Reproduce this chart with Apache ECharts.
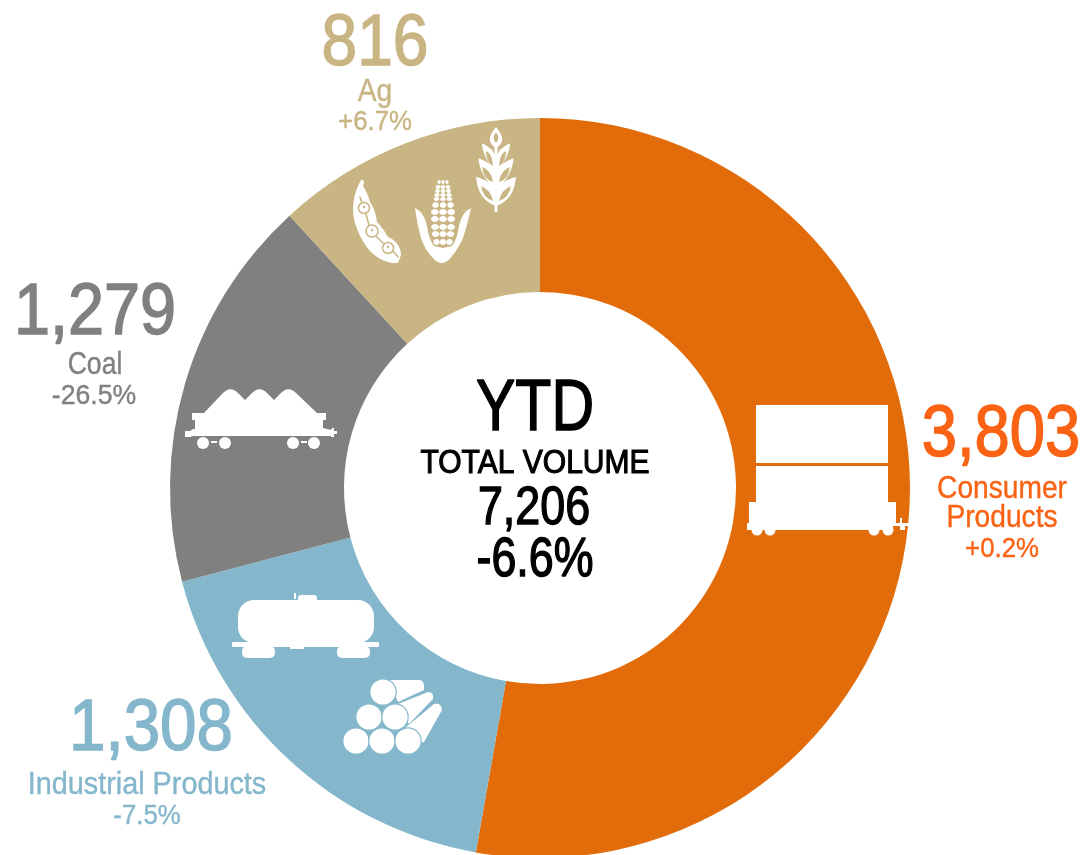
<!DOCTYPE html>
<html><head><meta charset="utf-8">
<style>html,body{margin:0;padding:0;background:#fff}#c{width:1086px;height:855px}</style>
<script src="https://cdn.jsdelivr.net/npm/echarts@6/dist/echarts.min.js"></script>
</head><body><div id="c"></div>
<script>
const categories = ['Consumer Products','Industrial Products','Coal','Ag'];
// Values as printed on the chart.
const volumes = [3803,1308,1279,816];
// Slice sizes as read from the drawn arcs: the reference draws Coal a little
// smaller and Ag a little larger than their printed values would give.
const arcValues = [3803,1308,1242,853];
const changes = ['+0.2%','-7.5%','-26.5%','+6.7%'];
const sliceColors = ['#E36C0A','#84B7CB','#808080','#C9B583'];
const labelColors = ['#FA6214','#84B7CB','#808080','#C9B583'];
const totalVolume = 7206;
const totalChange = '-6.6%';
const fmt = n => n.toLocaleString('en-US');
const FF = '"Liberation Sans",Arial,sans-serif';
const W = '#ffffff';
function T(text,x,y,size,fill,sx,weight,sw){
  return {type:'text',silent:true,x:x,y:y,scaleX:sx||1,z:20,style:{text:text,x:0,y:0,fill:fill,stroke:sw?fill:null,lineWidth:sw||0,align:'center',verticalAlign:'middle',textAlign:'center',textVerticalAlign:'middle',font:(weight||'normal')+' '+size+'px '+FF}};
}
let pathId=0;
function P(d,fill,extra){
  const name='iconPath'+(pathId++);
  echarts.graphic.registerShape(name,echarts.graphic.extendPath(d,{}));
  return Object.assign({type:name,silent:true,z:10,style:{fill:fill}},extra||{});
}
function C(x,y,r,fill,stroke,lw){return {type:'circle',silent:true,z:11,shape:{cx:x,cy:y,r:r},style:{fill:fill,stroke:stroke||null,lineWidth:lw||0}};}
function R(x,y,w,h,fill,r){return {type:'rect',silent:true,z:10,shape:{x:x,y:y,width:w,height:h,r:r||0},style:{fill:fill}};}
function E(x,y,a,b,fill){return {type:'ellipse',silent:true,z:11,shape:{cx:x,cy:y,rx:a,ry:b},style:{fill:fill}};}
function L(x1,y1,x2,y2,col,lw){return {type:'line',silent:true,z:12,shape:{x1,y1,x2,y2},style:{stroke:col,lineWidth:lw,lineCap:'round'}};}

const icons=[];
// consumer: stacked containers on flat car
icons.push(R(756,405,132,58,W),R(756,466,132,37,W),R(749,502,147,22,W),R(747,523,146,7,W),
 R(893,523,19,3,W),R(900,518,2,8,W),R(900,526,5,4,W),
 C(757,530,5.5,W),C(770,530,5.5,W),C(874,530,5.5,W),C(888,530,5.5,W));
// coal hopper
icons.push(P('M192 413L204 413L222 394Q230 385 238 393L245 400L251 394Q259 385 267 393L274 400L280 394Q288 385 296 393L317 413L326 413L326 420L323 420L323 428L331 430L332 428L334 428L334 431L337 431L337 434L334 434L334 437L331 437L331 436L193 436L190 437L185 437L185 431L190 431L193 429L195 429L195 420L192 420Z',W),
 C(203,443,6,W),C(225,443,6,W),C(293,443,6,W),C(314,443,6,W),R(211,441,6,2,W),R(301,441,6,2,W));
// tank car
icons.push(R(238,600,136,43,W,16),R(298,595,19,8,W,3),R(294,593,2,6,W),R(232,642,147,5,W,1),
 R(242,646,33,12,W,5),R(337,646,33,12,W,5),R(290,645,14,4,W));
// logs
icons.push(P('M388 680L420 680Q424 681 424 686L424 690L398 702Z',W),
 P('M398 704L428 692Q434 692 433 699L409 724Z',W),
 P('M405 728L434 704Q441 702 442 710L424 742L410 745Z',W));
[[356,741],[382,741],[408,741],[369,717],[395,717],[383,692]].forEach(p=>icons.push(C(p[0],p[1],13.2,W,sliceColors[1],1.2)));
// wheat
const tan=sliceColors[3];
icons.push(P('M496 127C500 132 503 137 502 141C501 145 498 146 496 149C494 146 491 145 490 141C489 137 492 132 496 127Z',W),
 P('M496 132C498 135 499 138 498 140L496 143L494 140C493 138 494 135 496 132Z',tan),
 R(494.5,146,3,66,W));
const leaves=[
 {tip:[14.3,143.3],c1:[4,147],j1:[0,157],c2:[13,158],j2:[0,172],hole:[[10,151],[4,153],[3,166],[10,162]]},
 {tip:[17.7,158.3],c1:[6,162],j1:[0,170],c2:[16,176],j2:[0,190],hole:[[14,167],[5,170],[3,182],[12,180]]},
 {tip:[20,176.7],c1:[8,180],j1:[0,188],c2:[18,200],j2:[0,206],hole:[[15,186],[5,190],[3,201],[13,198]]}
];
leaves.forEach(l=>{
 [-1,1].forEach(s=>{
  const X=v=>496+s*v;
  icons.push(P(`M${X(l.tip[0])} ${l.tip[1]}Q${X(l.c1[0])} ${l.c1[1]} ${X(l.j1[0])} ${l.j1[1]}L${X(l.j2[0])} ${l.j2[1]}Q${X(l.c2[0])} ${l.c2[1]} ${X(l.tip[0])} ${l.tip[1]}Z`,W));
  const h=l.hole;
  icons.push(P(`M${X(h[0][0])} ${h[0][1]}Q${X(h[1][0])} ${h[1][1]} ${X(h[2][0])} ${h[2][1]}Q${X(h[3][0])} ${h[3][1]} ${X(h[0][0])} ${h[0][1]}Z`,tan,{z:12}));
 });
});
// corn
icons.push(P('M415 208Q424 212 427 226Q429 240 434 246L443 248L452 246Q457 240 459 226Q462 212 471 208Q467 226 463 238Q458 249 452 256Q447 263 442 263Q437 263 432 257Q425 250 421 238Q417 224 415 208Z',W));
[[182,4,1.6],[187,5,2.4],[191,5.5,2.4],[195,6,2.6],[199,6.5,2.8],[205,7.5,3.2],[212,8.2,3.8],[219,8.2,3.8],[227,8,3.8],[234,7.5,3.6],[242,6.5,3.2]].forEach(r=>{
 const [y,step,a]=r;
 [-1,0,1].forEach(c=>icons.push(E(443+c*step,y,a,y<200?2:3,W)));
});
// pea pod
icons.push(P('M361 180C365 179 364 184 363 186C367 192 369 198 370 202C374 208 376 214 377 222C381 226 384 230 388 237C396 240 401 247 401 255L398 263C380 264 364 250 356 226C350 210 354 192 361 180Z',W));
icons.push(L(360,197,362,203,tan,1.5),L(366,214,369,225,tan,1.5),L(376,236,383,243,tan,1.5),L(393,251,398,257,tan,1.5));
[[364,208,5.5],[372,231,6],[388,248,5.5]].forEach(p=>{icons.push(C(p[0],p[1],p[2],W,tan,1.5));icons.push(C(p[0],p[1]-1,1.2,tan));});

const N=72,NS=.89,LS=32,LX=.88,CS=28,CX=.92,NW=1.5,TW=.4;
const texts=[
 T(fmt(volumes[0]),1001,436,N,labelColors[0],.88,null,NW),
 T('Consumer',1002,489,LS,labelColors[0],LX,null,TW),
 T('Products',1002,518,LS,labelColors[0],LX,null,TW),
 T(changes[0],1002,549,CS,labelColors[0],CX,null,TW),
 T(fmt(volumes[1]),151,730,N,labelColors[1],.91,null,NW),
 T(categories[1],147,785,LS,labelColors[1],.9,null,TW),
 T(changes[1],147,816,CS,labelColors[1],CX,null,TW),
 T(fmt(volumes[2]),95,314,N,labelColors[2],.9,null,NW),
 T(categories[2],95,365,LS,labelColors[2],.83,null,TW),
 T(changes[2],94,396,CS,labelColors[2],.95,null,TW),
 T(fmt(volumes[3]),375,45,N,labelColors[3],NS,null,NW),
 T(categories[3],375,92,LS,labelColors[3],LX,null,TW),
 T(changes[3],375,122,CS,labelColors[3],CX,null,TW),
 T('YTD',535,410,72,'#000',.82,null,1.5),
 T('TOTAL VOLUME',535,464,33,'#000',.91,null,1.1),
 T(fmt(totalVolume),534,509,54,'#000',.83,null,1.4),
 T(totalChange,535,561,56,'#000',.8,null,1.4)
];
const chart=echarts.init(document.getElementById('c'),null,{renderer:'canvas'});
chart.setOption({
 animation:false,
 backgroundColor:'#fff',
 series:[{type:'pie',center:[540,488],radius:[196,370],startAngle:90,clockwise:true,silent:true,
  label:{show:false},labelLine:{show:false},
  data:categories.map((c,i)=>({name:c,value:arcValues[i],itemStyle:{color:sliceColors[i]}}))}],
 graphic:{elements:icons.concat(texts)}
});
</script></body></html>
